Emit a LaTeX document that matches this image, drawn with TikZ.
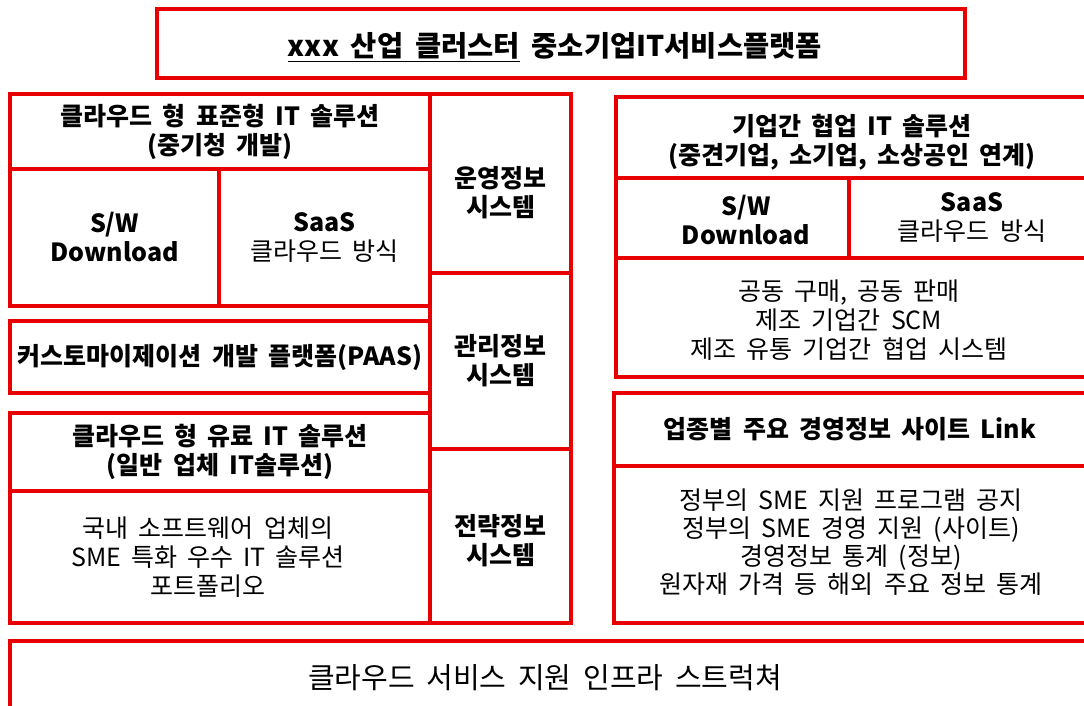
\documentclass[tikz,border=0pt]{standalone}
\usepackage{fontspec}
\setmainfont{Noto Sans CJK KR}[WordSpace=1.8]
\definecolor{boxred}{RGB}{232,0,0}
\begin{document}
\begin{tikzpicture}[x=1pt,y=-1pt,
  cell/.style={draw=boxred, line width=3.5pt, inner sep=0pt, outer sep=0pt,
    align=center, text=black, font=\fontsize{25}{29}\selectfont},
  head/.style={cell, font=\fontsize{25}{29}\selectfont\bfseries},
  txt/.style={inner sep=0pt, align=center, text=black, font=\fontsize{25}{29}\selectfont\bfseries},
  big/.style={cell, font=\fontsize{29}{34}\selectfont}]
\clip (0,0) rectangle (1084,706);
\fill[white] (0,0) rectangle (1084,706);
% title
\node[cell, minimum width=808pt, minimum height=69pt] (title) at (561,43.5) {};
\node[txt, font=\fontsize{28.5}{33}\selectfont\bfseries] (titletext) at (555,47)
  {\underline{xxx 산업 클러스터} 중소기업IT서비스플랫폼};
% left block 1
\node[head, minimum width=420pt, minimum height=75pt] (l1h) at (220,131.5)
  {클라우드 형 표준형 IT 솔루션\\(중기청 개발)};
\node[head, minimum width=209pt, minimum height=137pt] (l1sw) at (114.5,237.5)
  {S/W\\Download};
\node[cell, minimum width=211pt, minimum height=137pt] (l1saas) at (324.5,237.5)
  {\textbf{SaaS}\\클라우드 방식};
% middle column
\node[cell, minimum width=141pt, minimum height=179pt] (ops) at (500.5,183.5) {};
\node[txt] (opstext) at (500.5,193) {운영정보\\시스템};
\node[head, minimum width=141pt, minimum height=176pt] (mgmt) at (500.5,361)
  {관리정보\\시스템};
\node[cell, minimum width=141pt, minimum height=174pt] (strat) at (500.5,536) {};
\node[txt] (strattext) at (500.5,541) {전략정보\\시스템};
% PAAS
\node[head, minimum width=420pt, minimum height=72pt] (paas) at (220,357)
  {커스토마이제이션 개발 플랫폼(PAAS)};
% left block 3
\node[head, minimum width=420pt, minimum height=78pt] (l3h) at (220,452)
  {클라우드 형 유료 IT 솔루션\\(일반 업체 IT솔루션)};
\node[cell, minimum width=420pt, minimum height=132pt] (l3b) at (220,557) {};
\node[txt, font=\fontsize{25}{29}\selectfont] (l3btext) at (208,557)
  {국내 소프트웨어 업체의\\SME 특화 우수 IT 솔루션\\포트폴리오};
% right block 1
\node[cell, minimum width=479pt, minimum height=81pt] (r1h) at (855.5,137.5) {};
\node[txt] (r1htext) at (852,142)
  {기업간 협업 IT 솔루션\\(중견기업, 소기업, 소상공인 연계)};
\node[cell, minimum width=233pt, minimum height=80pt] (r1sw) at (732.5,218) {};
\node[txt] (r1swtext) at (746,220) {S/W\\Download};
\node[cell, minimum width=246pt, minimum height=80pt] (r1saas) at (972,218)
  {\textbf{SaaS}\\클라우드 방식};
\node[cell, minimum width=479pt, minimum height=119pt] (r1b) at (855.5,317.5) {};
\node[txt, font=\fontsize{25}{29}\selectfont] (r1btext) at (849,320)
  {공동 구매, 공동 판매\\제조 기업간 SCM\\제조 유통 기업간 협업 시스템};
% right block 2
\node[head, minimum width=481pt, minimum height=73pt] (r2h) at (854.5,429.5) {};
\node[txt] (r2htext) at (850,429.5) {업종별 주요 경영정보 사이트 Link};
\node[cell, minimum width=481pt, minimum height=157pt] (r2b) at (854.5,544.5) {};
\node[txt, font=\fontsize{25}{28}\selectfont] (r2btext) at (851,542)
  {정부의 SME 지원 프로그램 공지\\정부의 SME 경영 지원 (사이트)\\경영정보 통계 (정보)\\원자재 가격 등 해외 주요 정보 통계};
% bottom
\node[big, minimum width=1085pt, minimum height=79pt] (infra) at (552.5,680.5) {};
\node[txt, font=\fontsize{29}{34}\selectfont] (infratext) at (545,678)
  {클라우드 서비스 지원 인프라 스트럭쳐};
\end{tikzpicture}
\end{document}
